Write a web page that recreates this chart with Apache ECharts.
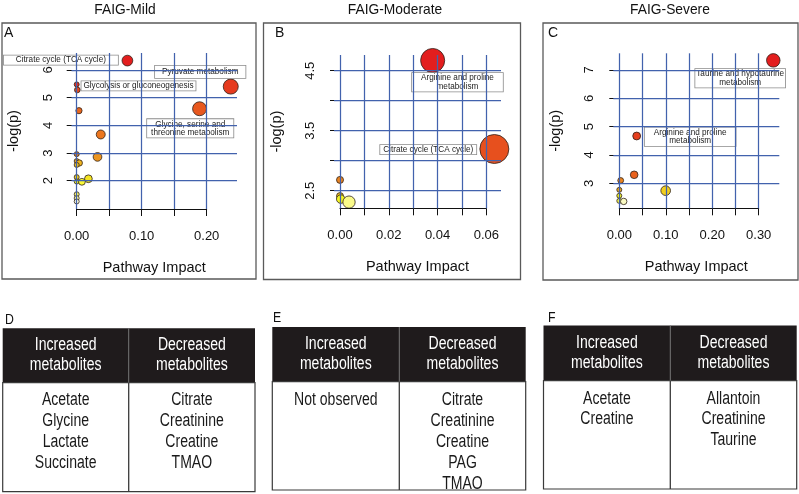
<!DOCTYPE html>
<html><head><meta charset="utf-8">
<script src="https://cdn.jsdelivr.net/npm/echarts@6/dist/echarts.min.js"></script>
<style>html,body{margin:0;padding:0;background:#fff}#c{width:799px;height:494px}</style>
</head><body><div id="c"></div>
<script>
// ================= DATA =================
const panelTitles = ['FAIG-Mild', 'FAIG-Moderate', 'FAIG-Severe'];
const panelLetters = ['A', 'B', 'C'];
const xAxisName = 'Pathway Impact';
const yAxisName = '-log(p)';

// Panel A (FAIG-Mild)
const mildImpact = [0.078, 0.000, 0.237, 0.001, 0.189, 0.0035, 0.037, 0.000, 0.032, 0.000, 0.004, 0.000, 0.000, 0.018, 0.000, 0.008, 0.000, 0.000, 0.000];
const mildLogP   = [6.34, 5.48, 5.40, 5.28, 4.60, 4.53, 3.67, 2.96, 2.86, 2.71, 2.64, 2.57, 2.13, 2.07, 1.97, 1.96, 1.51, 1.37, 1.25];
const mildLabels = ['Citrate cycle (TCA cycle)', 'Glycolysis or gluconeogenesis', 'Pyruvate metabolism', 'Glycine, serine and\nthreonine metabolism'];
const mildLabelPoint = [0, 1, 2, 4];
const mildXTicks = [0, 0.05, 0.10, 0.15, 0.20];
const mildXTickLabels = ['0.00', '', '0.10', '', '0.20'];
const mildYTicks = [2, 3, 4, 5, 6];
const mildYTickLabels = ['2', '3', '4', '5', '6'];

// Panel B (FAIG-Moderate)
const moderateImpact = [0.038, 0.0633, 0.000, 0.000, 0.0003, 0.0037];
const moderateLogP   = [4.67, 3.195, 2.68, 2.41, 2.36, 2.31];
const moderateLabels = ['Arginine and proline\nmetabolism', 'Citrate cycle (TCA cycle)'];
const moderateLabelPoint = [0, 1];
const moderateXTicks = [0, 0.01, 0.02, 0.03, 0.04, 0.05, 0.06];
const moderateXTickLabels = ['0.00', '', '0.02', '', '0.04', '', '0.06'];
const moderateYTicks = [2.5, 3.0, 3.5, 4.0, 4.5];
const moderateYTickLabels = ['2.5', '', '3.5', '', '4.5'];

// Panel C (FAIG-Severe)
const severeImpact = [0.3314, 0.0374, 0.032, 0.003, 0.000, 0.0998, 0.000, 0.000, 0.0095];
const severeLogP   = [7.34, 4.67, 3.30, 3.10, 2.77, 2.74, 2.56, 2.38, 2.36];
const severeLabels = ['Taurine and hypotaurine\nmetabolism', 'Arginine and proline\nmetabolism'];
const severeLabelPoint = [0, 1];
const severeXTicks = [0, 0.05, 0.10, 0.15, 0.20, 0.25, 0.30];
const severeXTickLabels = ['0.00', '', '0.10', '', '0.20', '', '0.30'];
const severeYTicks = [3, 4, 5, 6, 7];
const severeYTickLabels = ['3', '4', '5', '6', '7'];

// Tables
const tableLetters = ['D', 'E', 'F'];
const tableHeaders = ['Increased\nmetabolites', 'Decreased\nmetabolites'];
const mildIncreased = ['Acetate', 'Glycine', 'Lactate', 'Succinate'];
const mildDecreased = ['Citrate', 'Creatinine', 'Creatine', 'TMAO'];
const moderateIncreased = ['Not observed'];
const moderateDecreased = ['Citrate', 'Creatinine', 'Creatine', 'PAG', 'TMAO'];
const severeIncreased = ['Acetate', 'Creatine'];
const severeDecreased = ['Allantoin', 'Creatinine', 'Taurine'];

// ================= LAYOUT / STYLE =================
const FONT = "'Liberation Sans', Arial, sans-serif";
const GRID_BLUE = '#4262ad';
const NARROW_SCALE = 0.78;

const panels = [
  { impact: mildImpact, logp: mildLogP, labels: mildLabels, labelPoint: mildLabelPoint,
    xt: mildXTicks, xtl: mildXTickLabels, yt: mildYTicks, ytl: mildYTickLabels,
    plot: {l: 71.5, t: 53, r: 237, b: 209}, xPx: [76.7, 206.7], yPx: [180.7, 70],
    sizeMin: 5, sizeMax: 15,
    frame: {x: 2, y: 23, w: 254, h: 256}, titleX: 125, letterX: 4,
    labelStyle: [
      {offset: [-66.5, -0.4], padding: [1, 12, 0, 12]},
      {offset: [61.8, 1.5], padding: [1, 2, 0, 2]},
      {offset: [-30.5, -14.7], padding: [2, 7, 2, 7]},
      {offset: [-9.3, 19.6], padding: [1, 4, 1, 4]}
    ]},
  { impact: moderateImpact, logp: moderateLogP, labels: moderateLabels, labelPoint: moderateLabelPoint,
    xt: moderateXTicks, xtl: moderateXTickLabels, yt: moderateYTicks, ytl: moderateYTickLabels,
    plot: {l: 334, t: 55, r: 501, b: 208.3}, xPx: [340, 486.3], yPx: [190.7, 70.7],
    sizeMin: 7, sizeMax: 29,
    frame: {x: 263.5, y: 23, w: 257, h: 256.5}, titleX: 395, letterX: 275,
    labelStyle: [
      {offset: [24.8, 21.8], padding: [1, 9, 1, 9]},
      {offset: [-66.1, 0.7], padding: [1, 3, 0, 3]}
    ]},
  { impact: severeImpact, logp: severeLogP, labels: severeLabels, labelPoint: severeLabelPoint,
    xt: severeXTicks, xtl: severeXTickLabels, yt: severeYTicks, ytl: severeYTickLabels,
    plot: {l: 613.3, t: 53.3, r: 779.3, b: 208.3}, xPx: [619.3, 758.7], yPx: [183.3, 70],
    sizeMin: 5, sizeMax: 13.5,
    frame: {x: 543, y: 23, w: 255, h: 257}, titleX: 670, letterX: 548,
    labelStyle: [
      {offset: [-33.1, 17.9], padding: [1, 1, 1, 1]},
      {offset: [53.5, 0.7], padding: [1, 9, 1, 9]}
    ]}
];

// R-like heat.colors(n), slightly muted to match the print
function hsv2rgb(h, s, v) {
  const i = Math.floor(h * 6), f = h * 6 - i;
  const p = v * (1 - s), q = v * (1 - f * s), t = v * (1 - (1 - f) * s);
  const m = [[v, t, p], [q, v, p], [p, v, t], [p, q, v], [t, p, v], [v, p, q]][i % 6];
  return 'rgb(' + m.map(c => Math.round(c * 255)).join(',') + ')';
}
function heatColors(n) {
  const j = Math.floor(n / 4), i = n - j, out = [];
  for (let a = 0; a < i; a++) {
    const h = i > 1 ? (a / (i - 1)) / 6 : 0;
    out.push(hsv2rgb(h, 0.87, 0.89 + 0.07 * (h * 6)));
  }
  for (let b = 0; b < j; b++) {
    const s0 = 1 - 1 / (2 * j), s1 = 1 / (2 * j);
    const s = j > 1 ? s0 + (s1 - s0) * b / (j - 1) : s0;
    out.push(hsv2rgb(1 / 6, s * 0.9, 0.98));
  }
  return out;
}

const grids = [], xAxes = [], yAxes = [], series = [], graphics = [];

panels.forEach((p, k) => {
  const xs = (p.xt[p.xt.length - 1] - p.xt[0]) / (p.xPx[1] - p.xPx[0]);
  const ys = (p.yt[p.yt.length - 1] - p.yt[0]) / (p.yPx[0] - p.yPx[1]);
  const xmin = p.xt[0] + (p.plot.l - p.xPx[0]) * xs;
  const xmax = p.xt[0] + (p.plot.r - p.xPx[0]) * xs;
  const ymin = p.yt[0] - (p.plot.b - p.yPx[0]) * ys;
  const ymax = p.yt[p.yt.length - 1] + (p.yPx[1] - p.plot.t) * ys;
  const gPlot = grids.length;
  grids.push({left: p.plot.l, top: p.plot.t, width: p.plot.r - p.plot.l, height: p.plot.b - p.plot.t, containLabel: false});
  const gAxis = grids.length;
  grids.push({left: p.xPx[0], top: p.yPx[1], width: p.xPx[1] - p.xPx[0], height: p.yPx[0] - p.yPx[1], containLabel: false});

  const xPlotIdx = xAxes.length;
  xAxes.push({gridIndex: gPlot, type: 'value', min: xmin, max: xmax,
    axisLine: {show: false}, axisTick: {show: false}, axisLabel: {show: false}, splitLine: {show: false},
    name: xAxisName, nameLocation: 'middle', nameGap: 51,
    nameTextStyle: {fontFamily: FONT, fontSize: 14.5, color: '#111'}});
  xAxes.push({gridIndex: gAxis, type: 'value', min: p.xt[0], max: p.xt[p.xt.length - 1],
    interval: p.xt[1] - p.xt[0], offset: p.plot.b - p.yPx[0], z: 4,
    axisLine: {show: true, lineStyle: {color: '#111', width: 1}},
    axisTick: {show: true, length: 7, lineStyle: {color: '#111', width: 1}},
    splitLine: {show: false},
    axisLabel: {show: true, margin: 21, fontFamily: FONT, fontSize: 13, color: '#111', showMinLabel: true, showMaxLabel: true,
      formatter: v => { const i = p.xt.findIndex(t => Math.abs(t - v) < 1e-9); return i >= 0 ? p.xtl[i] : ''; }}});
  const yPlotIdx = yAxes.length;
  yAxes.push({gridIndex: gPlot, type: 'value', min: ymin, max: ymax,
    axisLine: {show: false}, axisTick: {show: false}, axisLabel: {show: false}, splitLine: {show: false},
    name: yAxisName, nameLocation: 'middle', nameGap: 50,
    nameTextStyle: {fontFamily: FONT, fontSize: 14.5, color: '#111'}});
  yAxes.push({gridIndex: gAxis, type: 'value', min: p.yt[0], max: p.yt[p.yt.length - 1],
    interval: p.yt[1] - p.yt[0], offset: p.xPx[0] - p.plot.l, z: 4,
    axisLine: {show: true, lineStyle: {color: '#111', width: 1}},
    axisTick: {show: true, length: 10, lineStyle: {color: '#111', width: 1}},
    splitLine: {show: false},
    axisLabel: {show: true, rotate: 90, margin: 17, fontFamily: FONT, fontSize: 13, color: '#111', showMinLabel: true, showMaxLabel: true,
      formatter: v => { const i = p.yt.findIndex(t => Math.abs(t - v) < 1e-9); return i >= 0 ? p.ytl[i] : ''; }}});

  // grid lines
  series.push({type: 'scatter', xAxisIndex: xPlotIdx, yAxisIndex: yPlotIdx, data: [], z: 1, silent: true,
    markLine: {silent: true, symbol: 'none', animation: false, label: {show: false},
      lineStyle: {color: GRID_BLUE, width: 1.25, type: 'solid'},
      data: p.xt.map(v => ({xAxis: v})).concat(p.yt.map(v => ({yAxis: v})))}});

  // points
  const maxImp = Math.max.apply(null, p.impact);
  const cols = heatColors(p.logp.length);
  const data = p.impact.map((x, i) => {
    const rank = p.logp.filter(v => v > p.logp[i]).length;
    const item = {value: [x, p.logp[i]], itemStyle: {color: cols[rank]}};
    const li = p.labelPoint.indexOf(i);
    if (li >= 0) {
      const st = p.labelStyle[li];
      item.label = {show: true, position: 'inside', offset: st.offset, padding: st.padding,
        formatter: p.labels[li], fontFamily: FONT, fontSize: 8.2, lineHeight: 8.2, color: '#222',
        backgroundColor: '#fff', borderColor: '#8a8a8a', borderWidth: 0.8, align: 'center'};
    }
    return item;
  });
  series.push({type: 'scatter', xAxisIndex: xPlotIdx, yAxisIndex: yPlotIdx, z: 3, clip: false, animation: false,
    symbolSize: v => p.sizeMin + (p.sizeMax - p.sizeMin) * Math.sqrt(Math.max(v[0], 0) / maxImp),
    itemStyle: {borderColor: '#2e221a', borderWidth: 0.8, opacity: 1},
    data: data});

  // frame, title, letter
  graphics.push({type: 'rect', shape: {x: p.frame.x, y: p.frame.y, width: p.frame.w, height: p.frame.h},
    style: {fill: 'none', stroke: '#5a5a5a', lineWidth: 1.3}, z: 10});
  graphics.push({type: 'text', x: p.titleX, y: 10, scaleX: 0.92, style: {text: panelTitles[k], font: '15px ' + FONT, fill: '#111', textAlign: 'center', textVerticalAlign: 'middle'}});
  graphics.push({type: 'text', x: p.letterX, y: 33.5, style: {text: panelLetters[k], font: '14px ' + FONT, fill: '#111', textAlign: 'left', textVerticalAlign: 'middle'}});
});

// ================= TABLES =================
const tables = [
  {inc: mildIncreased, dec: mildDecreased, box: {l: 2.7, r: 255, t: 328.3, hb: 382.7, b: 491.7, d: 128.7}, letter: [5, 320], first: 400, step: 21},
  {inc: moderateIncreased, dec: moderateDecreased, box: {l: 272.3, r: 525.7, t: 327, hb: 381.7, b: 490, d: 399.3}, letter: [273, 318], first: 400, step: 21},
  {inc: severeIncreased, dec: severeDecreased, box: {l: 543.5, r: 796.7, t: 325.5, hb: 380.7, b: 489, d: 670.3}, letter: [548, 317.5], first: 398.7, step: 20.6}
];
tables.forEach((tb, k) => {
  const b = tb.box;
  graphics.push({type: 'text', x: tb.letter[0], y: tb.letter[1], scaleX: 0.82, style: {text: tableLetters[k], font: '15px ' + FONT, fill: '#111', textAlign: 'left', textVerticalAlign: 'middle'}});
  graphics.push({type: 'rect', shape: {x: b.l, y: b.t, width: b.r - b.l, height: b.hb - b.t}, style: {fill: '#1f1b1c'}});
  graphics.push({type: 'rect', shape: {x: b.l, y: b.hb, width: b.r - b.l, height: b.b - b.hb}, style: {fill: '#fff', stroke: '#3a3a3a', lineWidth: 1.2}});
  graphics.push({type: 'line', shape: {x1: b.d, y1: b.t, x2: b.d, y2: b.hb}, style: {stroke: '#777', lineWidth: 1}});
  graphics.push({type: 'line', shape: {x1: b.d, y1: b.hb, x2: b.d, y2: b.b}, style: {stroke: '#3a3a3a', lineWidth: 1.3}});
  const c1 = (b.l + b.d) / 2, c2 = (b.d + b.r) / 2, hc = (b.t + b.hb) / 2;
  [c1, c2].forEach((cx, j) => {
    graphics.push({type: 'text', x: cx, y: hc, scaleX: NARROW_SCALE, style: {text: tableHeaders[j], font: '18px ' + FONT, lineHeight: 20, fill: '#fff', textAlign: 'center', textVerticalAlign: 'middle'}});
  });
  [tb.inc, tb.dec].forEach((list, j) => {
    const cx = j === 0 ? c1 : c2;
    list.forEach((t, i) => {
      graphics.push({type: 'text', x: cx, y: tb.first + i * tb.step, scaleX: NARROW_SCALE, style: {text: t, font: '18px ' + FONT, fill: '#1a1a1a', textAlign: 'center', textVerticalAlign: 'middle'}});
    });
  });
});

const chart = echarts.init(document.getElementById('c'), null, {renderer: 'canvas'});
chart.setOption({
  animation: false,
  backgroundColor: '#fff',
  grid: grids,
  xAxis: xAxes,
  yAxis: yAxes,
  series: series,
  graphic: {elements: graphics}
});
</script>
</body></html>
